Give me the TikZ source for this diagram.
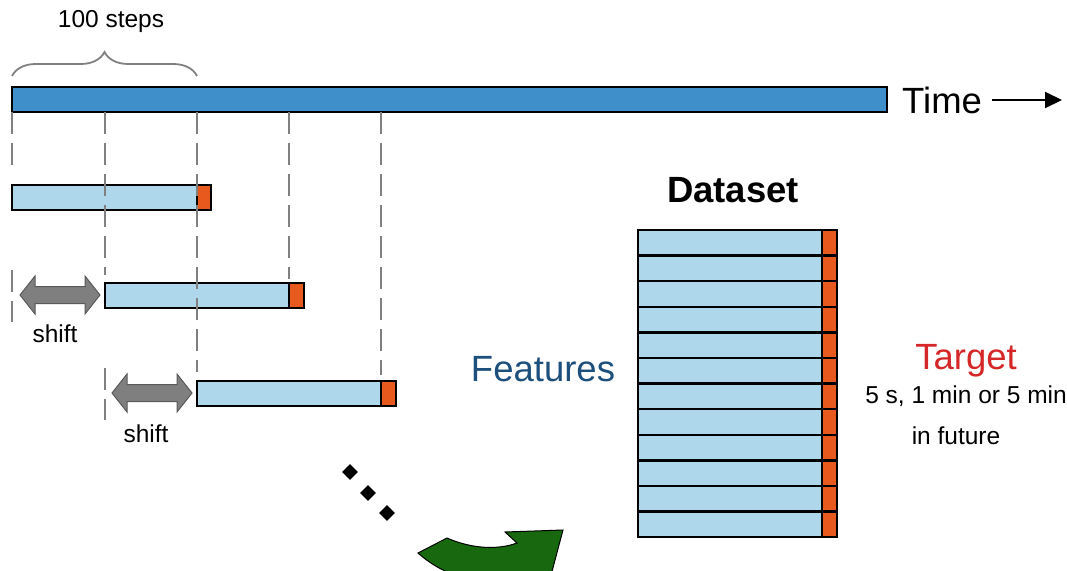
\documentclass[tikz,border=0pt]{standalone}
\usepackage{fontspec}
\setmainfont{Liberation Sans}
\usetikzlibrary{arrows.meta,shapes.geometric,decorations.pathreplacing}

\definecolor{timeblue}{HTML}{3F8FCA}
\definecolor{winblue}{HTML}{AED7EB}
\definecolor{targorange}{HTML}{E8591E}
\definecolor{featblue}{HTML}{1C4F7C}
\definecolor{targred}{HTML}{D62728}
\definecolor{arrowgreen}{HTML}{17680F}
\definecolor{shiftgray}{HTML}{7F7F7F}

\tikzset{
	timebar/.style={draw, line width=2.5pt, fill=timeblue, inner sep=0pt, outer sep=0pt, minimum height=25pt},
	window/.style={draw, line width=2.5pt, fill=winblue, inner sep=0pt, outer sep=0pt, minimum height=25pt},
	targetbox/.style={draw, line width=2.5pt, fill=targorange, inner sep=0pt, outer sep=0pt, minimum height=25pt, minimum width=15pt},
	dashline/.style={draw=gray, line width=2pt, dash pattern=on 22pt off 9pt},
	small/.style={font=\fontsize{24.5}{28}\selectfont},
	big/.style={font=\fontsize{36.5}{42}\selectfont},
	dot/.style={diamond, fill=black, inner sep=0pt, minimum size=16pt},
	shiftarrow/.style={fill=shiftgray, draw=shiftgray!70!black, line width=1pt, line join=miter}
}

\begin{document}
\begin{tikzpicture}[x=1pt, y=-1pt]
	\useasboundingbox (0,0) rectangle (1067,570);
	\clip (0,0) rectangle (1067,570);

	% time line
	\node[timebar, minimum width=875pt, anchor=north west] (tl) at (12,87) {};
	\node[big, anchor=west, inner sep=2pt] (time) at (900,100) {Time};
	\coordinate (timeend) at (1062,100);
	\draw[line width=2pt, -{Triangle[length=17pt, width=16pt]}] ([xshift=8pt]time.east) -- (timeend);

	% brace
	\coordinate (b1) at (12,76);
	\coordinate (b2) at (197,76);
	\draw[gray, line width=1.8pt, decorate, decoration={brace, amplitude=24pt}] (b1) -- (b2);
	\node[small] (steps) at (111,21) {100 steps};

	% windows
	\node[window, minimum width=185pt, anchor=north west] (w1) at (12,185) {};
	\node[targetbox, minimum width=14pt, anchor=west] (t1) at (w1.east) {};
	\node[window, minimum width=184pt, anchor=north west] (w2) at (105,283) {};
	\node[targetbox, anchor=west] (t2) at (w2.east) {};
	\node[window, minimum width=184pt, anchor=north west] (w3) at (197,381) {};
	\node[targetbox, anchor=west] (t3) at (w3.east) {};

	% dashed guides
	\draw[dashline] (tl.south west) -- ([yshift=13pt]w1.north west);
	\draw[dashline] (w2.north west |- tl.south) -- ([yshift=8pt]w2.north west);
	\draw[dashline] (w3.north west |- tl.south) -- ([yshift=9pt]w3.north west);
	\draw[dashline] (w2.north east |- tl.south) -- ([yshift=4pt]w2.north east);
	\draw[dashline] (w3.north east |- tl.south) -- ([yshift=6pt]w3.north east);
	\coordinate (g1a) at (12,270);
	\coordinate (g1b) at (12,322);
	\coordinate (g2a) at (105,368);
	\coordinate (g2b) at (105,420);
	\draw[dashline] (g1a) -- (g1b);
	\draw[dashline] (g2a) -- (g2b);

	% shift arrows
	\foreach \cx/\cy in {60/295, 152/393}{
		\filldraw[shiftarrow] (\cx-40,\cy) -- (\cx-25,\cy-19) -- (\cx-25,\cy-8.5) -- (\cx+25,\cy-8.5)
			-- (\cx+25,\cy-19) -- (\cx+40,\cy) -- (\cx+25,\cy+19) -- (\cx+25,\cy+8.5)
			-- (\cx-25,\cy+8.5) -- (\cx-25,\cy+19) -- cycle;
	}
	\node[small] (shift1) at (55,334) {shift};
	\node[small] (shift2) at (146,434) {shift};

	% dots
	\node[dot] (d1) at (350,472) {};
	\node[dot] (d2) at (368,493) {};
	\node[dot] (d3) at (387,513) {};

	% curved arrow
	\filldraw[fill=arrowgreen, draw=black, line width=1pt]
		(418,553) -- (447,538) .. controls (472,549) and (498,550) .. (517,543)
		-- (505,532) -- (563,530) -- (546,594) -- (532,572)
		.. controls (495,592) and (448,580) .. (418,553) -- cycle;

	% dataset
	\node[font=\fontsize{36.5}{42}\selectfont\bfseries] (dataset) at (733,190) {Dataset};
	\foreach \i in {1,...,12}{
		\node[window, minimum width=184pt, minimum height=25.6pt, anchor=north west] (row\i) at (638,{230+(\i-1)*25.6}) {};
		\node[targetbox, minimum height=25.6pt, anchor=west] (rt\i) at (row\i.east) {};
	}

	\node[big, text=featblue] (features) at (543,369) {Features};
	\node[big, text=targred] (target) at (966,361) {Target};
	\node[small] (horizon) at (966,396) {5 s, 1 min or 5 min};
	\node[small] (future) at (956,436) {in future};
\end{tikzpicture}
\end{document}
